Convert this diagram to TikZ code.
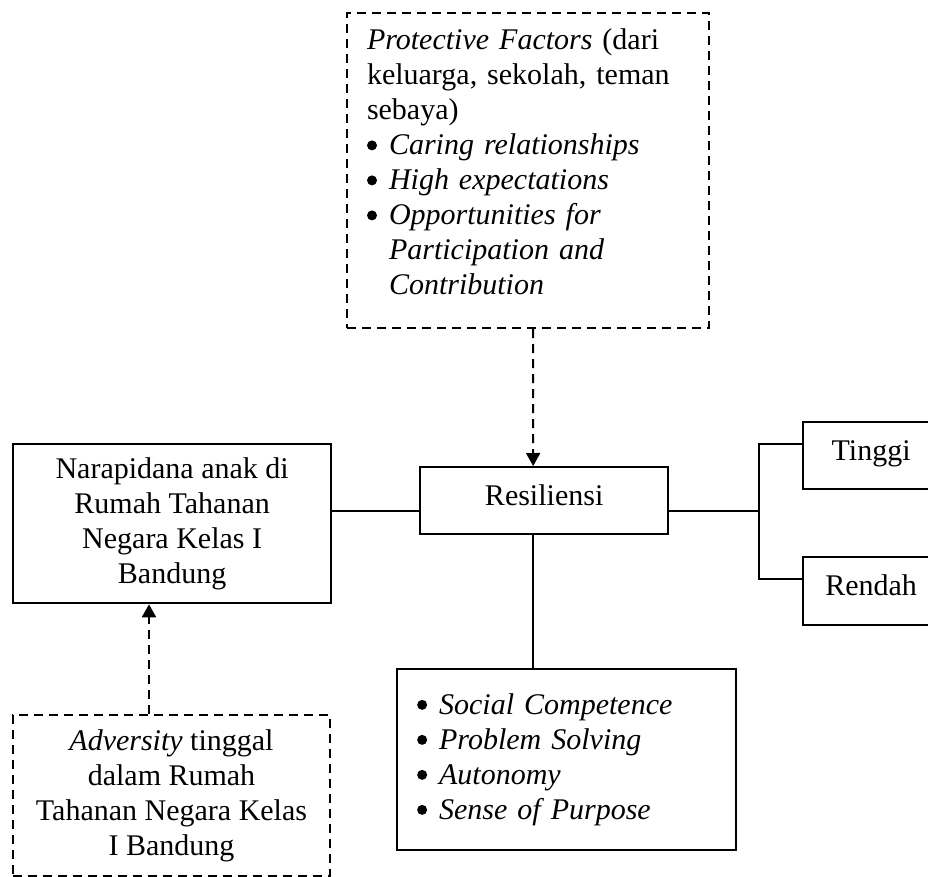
\documentclass[tikz,border=0pt]{standalone}
\usepackage{fontspec}
\setmainfont{Liberation Serif}
\usetikzlibrary{arrows.meta}
\newcommand{\bdot}{\tikz[baseline=0pt]\fill (6pt,9.5pt) circle[radius=5pt];}
\newcommand{\bitem}[1]{\makebox[22pt][l]{\bdot}\textit{#1}}
\newcommand{\bcont}[1]{\hspace*{22pt}\textit{#1}}

\begin{document}
\begin{tikzpicture}[x=1pt,y=-1pt,
     font=\fontsize{30}{35}\selectfont,
     block/.style = {draw, rectangle, line width=2.3pt, inner sep=0pt, anchor=north west, align=center},
     dblock/.style = {block, dash pattern=on 9pt off 6pt, line width=2pt},
     listblock/.style = {align=left, inner xsep=20pt},
     small/.style = {text height=21pt, text depth=12pt},
     link/.style = {draw, line width=2pt},
     darrow/.style = {draw, line width=2pt, dash pattern=on 9pt off 6pt, -{Triangle[length=13pt,width=14pt]}}
    ]
    \useasboundingbox (0,0) rectangle (928,877);
    \begin{scope}
    \clip (0,0) rectangle (928,877);

    \node [dblock, listblock, minimum width=362, minimum height=315, text width=322pt] (prot) at (346,12)
      {\textit{Protective Factors} (dari\\ keluarga, sekolah, teman\\ sebaya)\\
       \bitem{Caring relationships}\\ \bitem{High expectations}\\ \bitem{Opportunities for}\\
       \bcont{Participation and}\\ \bcont{Contribution}\rule[-17pt]{0pt}{17pt}};
    \node [block, small, minimum width=248, minimum height=67] (res) at (419,466) {Resiliensi};
    \node [block, minimum width=318, minimum height=159] (nara) at (12,443)
      {Narapidana anak di\\ Rumah Tahanan\\ Negara Kelas I\\ Bandung};
    \node [dblock, minimum width=317, minimum height=161] (adv) at (12,714)
      {\textit{Adversity} tinggal\\ dalam Rumah\\ Tahanan Negara Kelas\\ I Bandung};
    \node [block, small, minimum width=136, minimum height=67] (tinggi) at (802,421) {Tinggi};
    \node [block, small, minimum width=136, minimum height=68] (rendah) at (802,556) {Rendah};
    \node [block, listblock, minimum width=339, minimum height=181, text width=299pt] (trait) at (396,668)
      {\bitem{Social Competence}\\ \bitem{Problem Solving}\\ \bitem{Autonomy}\\ \bitem{Sense of Purpose}};

    \coordinate (fork) at ([xshift=90pt,yshift=-10.5pt]res.east);

    \draw[darrow] ([xshift=5pt]prot.south) -- ([xshift=-11pt]res.north);
    \draw[link] ([yshift=-10.5pt]res.west) -- ([yshift=-10.5pt]res.west -| nara.east);
    \draw[link] ([yshift=-10.5pt]res.east) -- (fork);
    \draw[link] ([yshift=11.5pt]tinggi.west) -| (fork) |- ([yshift=12pt]rendah.west);
    \draw[link] ([xshift=-11pt]res.south) -- ([xshift=-11pt]res.south |- trait.north);
    \draw[darrow] ([xshift=-22.5pt]adv.north) -- ([xshift=-22.5pt]adv.north |- nara.south);
    \end{scope}

\end{tikzpicture}
\end{document}
